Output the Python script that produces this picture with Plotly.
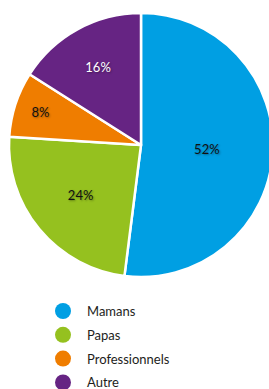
import plotly.graph_objects as go

categories = ["Mamans", "Papas", "Professionnels", "Autre"]
values = [52, 24, 8, 16]
colors = ["#009FE3", "#95C11F", "#EF7D00", "#662483"]
text_colors = ["#111111", "#111111", "#111111", "#FFFFFF"]

W, H = 275, 389

fig = go.Figure()
fig.add_trace(go.Pie(
    labels=categories,
    values=values,
    sort=False,
    direction="clockwise",
    rotation=0,
    marker=dict(colors=colors, line=dict(color="white", width=2.5)),
    texttemplate="%{percent:.0%}",
    textposition="inside",
    insidetextorientation="horizontal",
    textfont=dict(family="Lato", size=13, color=text_colors,
                  shadow="1px 1px 2px rgba(0,0,0,0.35)"),
    domain=dict(x=[9 / W, 273 / W], y=[1 - 277 / H, 1 - 13 / H]),
    showlegend=False,
    hoverinfo="label+percent",
))

shapes = []
annotations = []
y0 = 311
step = 23.8
for i, (cat, col) in enumerate(zip(categories, colors)):
    cy = y0 + i * step
    shapes.append(dict(type="circle", xref="paper", yref="paper",
                       x0=(63 - 8) / W, x1=(63 + 8) / W,
                       y0=1 - (cy + 8) / H, y1=1 - (cy - 8) / H,
                       fillcolor=col, line=dict(width=0)))
    annotations.append(dict(x=85 / W, y=1 - cy / H, xref="paper", yref="paper",
                            text=cat, showarrow=False, xanchor="left", yanchor="middle",
                            font=dict(family="Lato", size=13, color="#1d1d1b")))

fig.update_layout(
    width=W, height=H,
    margin=dict(l=0, r=0, t=0, b=0),
    paper_bgcolor="white", plot_bgcolor="white",
    shapes=shapes, annotations=annotations,
)

fig.write_html(
    "out.html",
    config={"displayModeBar": False},
    post_script="document.body.style.margin='0';document.body.style.overflow='hidden';",
)
